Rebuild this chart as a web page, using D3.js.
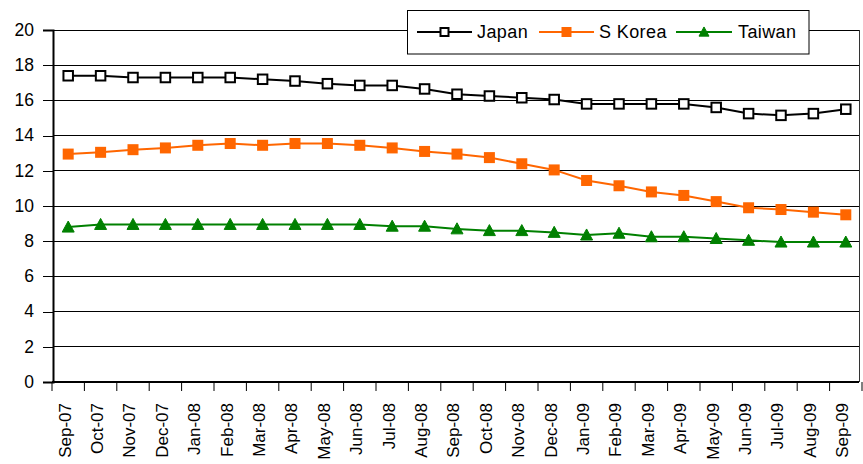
<!DOCTYPE html>
<html>
<head>
<meta charset="utf-8">
<script src="https://cdn.jsdelivr.net/npm/d3@7/dist/d3.min.js"></script>
<style>
  html, body { margin: 0; padding: 0; background: #fff; }
  svg { display: block; font-family: Arial, "Liberation Sans", sans-serif; }
</style>
</head>
<body>
<svg id="chart" width="863" height="464"></svg>
<script>
// Monthly series, Sep-07 .. Sep-09
const months = ["Sep-07","Oct-07","Nov-07","Dec-07","Jan-08","Feb-08","Mar-08","Apr-08","May-08",
  "Jun-08","Jul-08","Aug-08","Sep-08","Oct-08","Nov-08","Dec-08","Jan-09","Feb-09","Mar-09",
  "Apr-09","May-09","Jun-09","Jul-09","Aug-09","Sep-09"];
const japan = [17.4, 17.4, 17.3, 17.3, 17.3, 17.3, 17.2, 17.1, 16.95, 16.85, 16.85, 16.65, 16.35,
  16.25, 16.15, 16.05, 15.8, 15.8, 15.8, 15.8, 15.6, 15.25, 15.15, 15.25, 15.5];
const korea = [12.95, 13.05, 13.2, 13.3, 13.45, 13.55, 13.45, 13.55, 13.55, 13.45, 13.3, 13.1, 12.95,
  12.75, 12.4, 12.05, 11.45, 11.15, 10.8, 10.6, 10.25, 9.9, 9.8, 9.65, 9.5];
const taiwan = [8.8, 8.95, 8.95, 8.95, 8.95, 8.95, 8.95, 8.95, 8.95, 8.95, 8.85, 8.85, 8.7,
  8.6, 8.6, 8.5, 8.35, 8.45, 8.25, 8.25, 8.15, 8.05, 7.95, 7.95, 7.95];
const yTicks = [0, 2, 4, 6, 8, 10, 12, 14, 16, 18, 20];

const seriesList = [
  { name: "Japan",   values: japan,  color: "#000000", marker: "openSquare" },
  { name: "S Korea", values: korea,  color: "#FF6600", marker: "square" },
  { name: "Taiwan",  values: taiwan, color: "#008000", marker: "triangle" }
];

const svg = d3.select("#chart");
const plot = { left: 53, right: 859, top: 30, bottom: 382 };

const x = d3.scaleBand().domain(months).range([52, 862]).paddingInner(0).paddingOuter(0);
const y = d3.scaleLinear().domain([0, 20]).range([plot.bottom, plot.top]);
const cx = d => x(d) + x.bandwidth() / 2;

// Horizontal gridlines
svg.append("g")
  .selectAll("line")
  .data(yTicks.filter(t => t > 0))
  .join("line")
  .attr("x1", plot.left).attr("x2", plot.right)
  .attr("y1", d => y(d)).attr("y2", d => y(d))
  .attr("stroke", "#000").attr("stroke-width", 1).attr("shape-rendering", "crispEdges");

// Right frame edge
svg.append("line")
  .attr("x1", plot.right).attr("x2", plot.right)
  .attr("y1", plot.top).attr("y2", plot.bottom)
  .attr("stroke", "#333").attr("stroke-width", 1).attr("shape-rendering", "crispEdges");

// Y axis
const yAxis = d3.axisLeft(y).tickValues(yTicks).tickSize(10).tickPadding(9).tickFormat(d3.format("d"));
const gy = svg.append("g").attr("transform", `translate(${plot.left},0)`).call(yAxis);
gy.select(".domain").attr("stroke", "#000").attr("stroke-width", 2);
gy.selectAll(".tick line").attr("stroke", "#000").attr("stroke-width", 1).attr("shape-rendering", "crispEdges");
gy.selectAll(".tick text").attr("font-size", 17.5).attr("fill", "#000")
  .attr("font-family", "Arial, 'Liberation Sans', sans-serif").attr("dy", "0.3em");

// X axis: ticks on category boundaries
const gx = svg.append("g");
gx.append("line")
  .attr("x1", plot.left - 1).attr("x2", plot.right)
  .attr("y1", plot.bottom).attr("y2", plot.bottom)
  .attr("stroke", "#000").attr("stroke-width", 2);
const boundaries = months.map(m => x(m)).concat([x(months[months.length - 1]) + x.bandwidth()]);
gx.selectAll("line.tick")
  .data(boundaries)
  .join("line")
  .attr("class", "tick")
  .attr("x1", d => d).attr("x2", d => d)
  .attr("y1", plot.bottom).attr("y2", plot.bottom + 9)
  .attr("stroke", "#000").attr("stroke-width", 1);
gx.selectAll("text")
  .data(months)
  .join("text")
  .attr("transform", d => `translate(${cx(d) + 2.3},403) rotate(-90)`)
  .attr("text-anchor", "end")
  .attr("font-size", 17)
  .attr("fill", "#000")
  .text(d => d);

// Marker drawing helper
function drawMarker(g, type, color, size) {
  if (type === "triangle") {
    const h = size * 0.92, w = size;
    g.append("path")
      .attr("d", `M0,${-h * 0.55}L${w / 2},${h * 0.45}L${-w / 2},${h * 0.45}Z`)
      .attr("fill", color).attr("stroke", color).attr("stroke-width", 1);
  } else if (type === "square") {
    g.append("rect")
      .attr("x", -size / 2).attr("y", -size / 2).attr("width", size).attr("height", size)
      .attr("fill", color);
  } else {
    g.append("rect")
      .attr("x", -size / 2).attr("y", -size / 2).attr("width", size).attr("height", size)
      .attr("fill", "#fff").attr("stroke", color).attr("stroke-width", 2);
  }
}

const line = d3.line().x((d, i) => cx(months[i])).y(d => y(d));
const markerSize = { openSquare: 9.5, square: 11, triangle: 12 };

seriesList.forEach(s => {
  const g = svg.append("g");
  g.append("path")
    .datum(s.values)
    .attr("d", line)
    .attr("fill", "none")
    .attr("stroke", s.color)
    .attr("stroke-width", 2);
  s.values.forEach((v, i) => {
    const mg = g.append("g").attr("transform", `translate(${cx(months[i])},${y(v)})`);
    drawMarker(mg, s.marker, s.color, markerSize[s.marker]);
  });
});

// Legend
const legend = svg.append("g");
legend.append("rect")
  .attr("x", 407.5).attr("y", 10.5).attr("width", 401.5).attr("height", 43.5)
  .attr("fill", "#fff").attr("stroke", "#000").attr("stroke-width", 1);
const legendItems = [
  { s: seriesList[0], x1: 417, x2: 472, tx: 477, size: 8 },
  { s: seriesList[1], x1: 539, x2: 594, tx: 599, size: 10 },
  { s: seriesList[2], x1: 676, x2: 732, tx: 738, size: 10 }
];
legendItems.forEach(it => {
  const ly = 32;
  legend.append("line")
    .attr("x1", it.x1).attr("x2", it.x2).attr("y1", ly).attr("y2", ly)
    .attr("stroke", it.s.color).attr("stroke-width", 2);
  const mg = legend.append("g").attr("transform", `translate(${(it.x1 + it.x2) / 2},${ly})`);
  drawMarker(mg, it.s.marker, it.s.color, it.size);
  legend.append("text")
    .attr("x", it.tx).attr("y", ly).attr("dy", "0.35em")
    .attr("font-size", 18).attr("letter-spacing", 0.4).attr("fill", "#000")
    .text(it.s.name);
});
</script>
</body>
</html>
